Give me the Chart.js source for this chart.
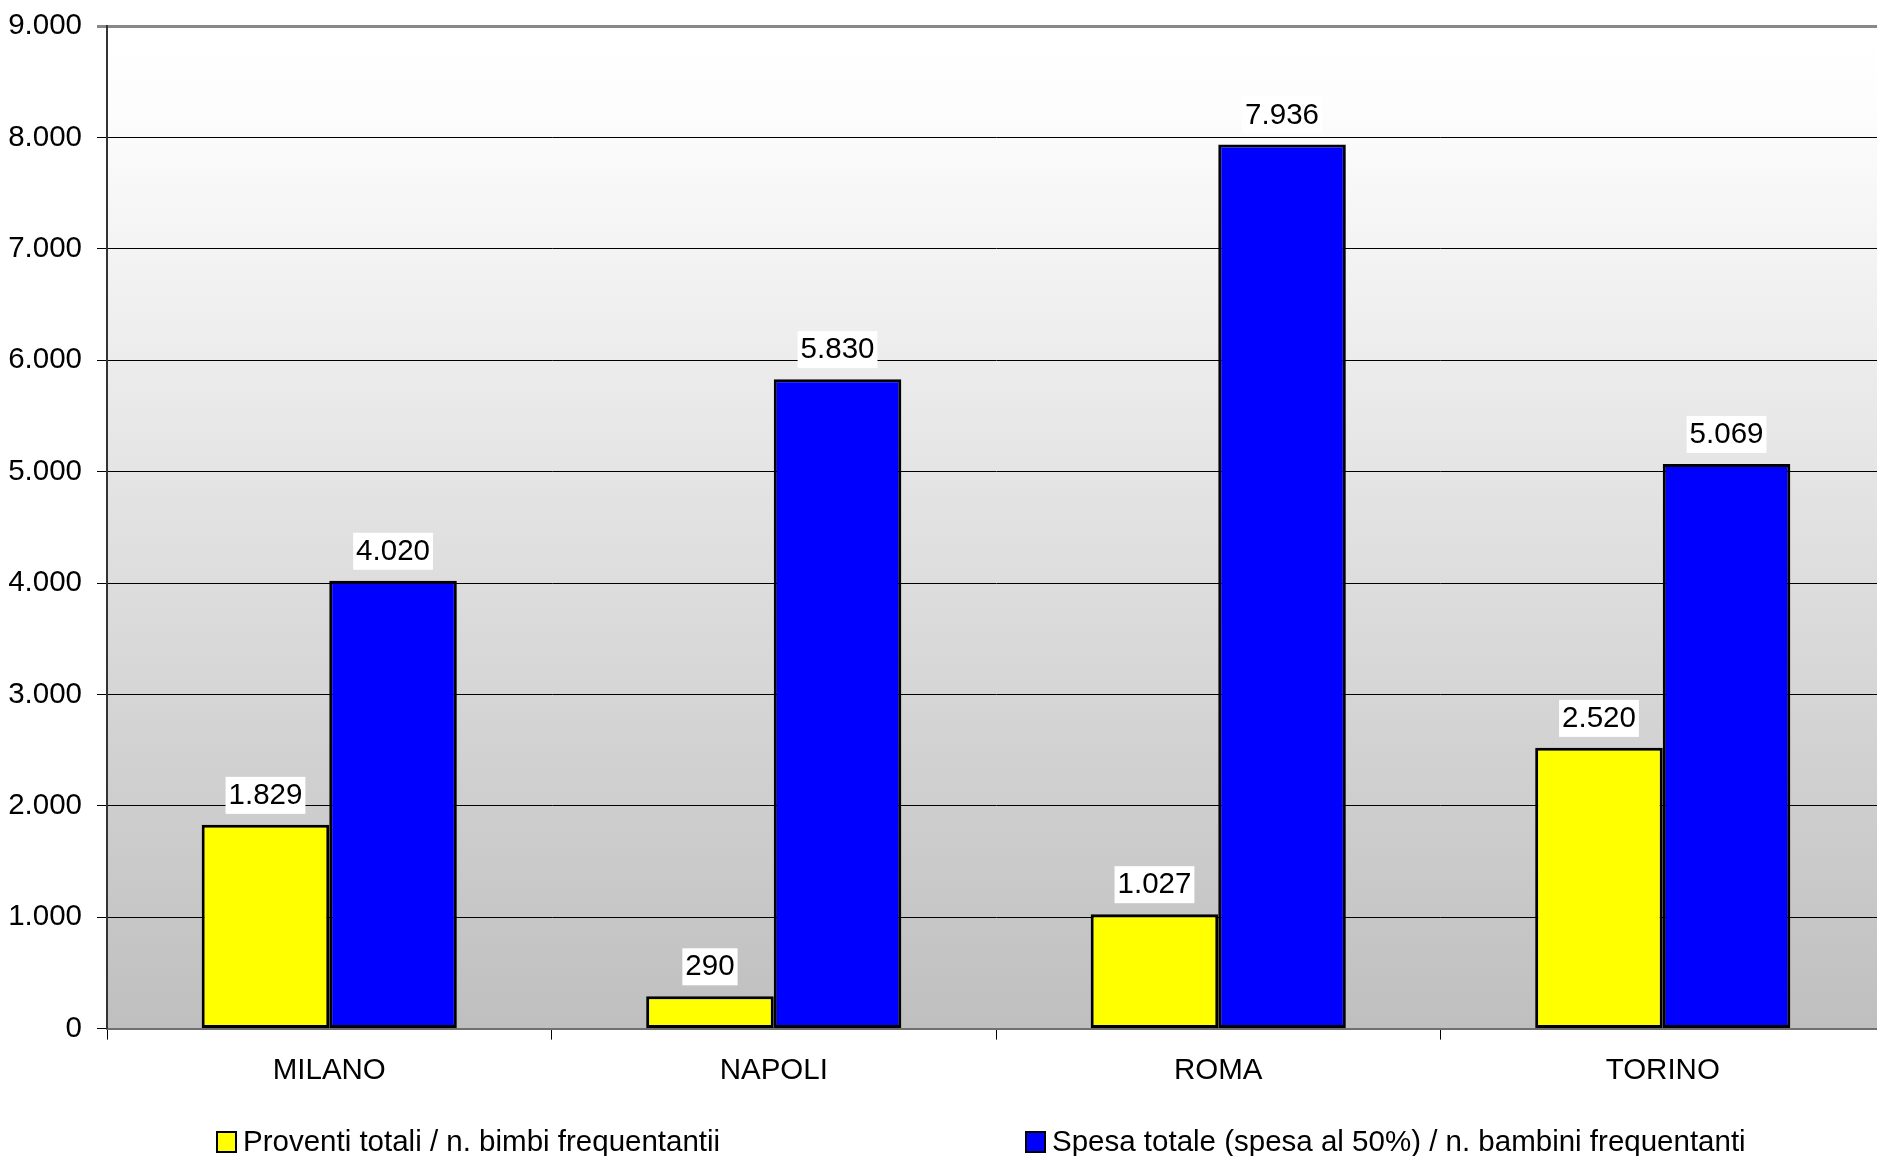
<!DOCTYPE html>
<html>
<head>
<meta charset="utf-8">
<script src="https://cdn.jsdelivr.net/npm/chart.js@4.4.1/dist/chart.umd.min.js"></script>
<style>
  html, body { margin: 0; padding: 0; background: #fff; overflow: hidden; }
  #wrap { width: 1890px; height: 1156px; position: relative; }
</style>
</head>
<body>
<div id="wrap"><canvas id="spesaChart"></canvas></div>
<script>
// Data
const cities = ['MILANO', 'NAPOLI', 'ROMA', 'TORINO'];
const proventi = [1829, 290, 1027, 2520];
const spesa = [4020, 5830, 7936, 5069];
const seriesNames = [
    'Proventi totali / n. bimbi frequentantii',
    'Spesa totale (spesa al 50%) / n. bambini frequentanti'
];
const yMin = 0;
const yMax = 9000;
const yStep = 1000;

const FONT = '"Liberation Sans", Arial, sans-serif';
const FSIZE = 29.5;

// 9000 -> "9.000"
function fmt(v) {
    return String(v).replace(/\B(?=(\d{3})+(?!\d))/g, '.');
}

// Gray gradient behind the plot area
const plotBackground = {
    id: 'plotBackground',
    beforeDraw(chart) {
        const { ctx, chartArea: a } = chart;
        ctx.save();
        ctx.fillStyle = '#ffffff';
        ctx.fillRect(0, 0, chart.width, chart.height);
        const g = ctx.createLinearGradient(0, a.top, 0, a.bottom);
        g.addColorStop(0, '#ffffff');
        g.addColorStop(0.08, '#fdfdfd');
        g.addColorStop(1, '#bfbfbf');
        ctx.fillStyle = g;
        ctx.fillRect(a.left, a.top, a.right - a.left, a.bottom - a.top);
        ctx.restore();
    }
};

// Value labels in white boxes above each bar
const valueLabels = {
    id: 'valueLabels',
    afterDatasetsDraw(chart) {
        const ctx = chart.ctx;
        ctx.save();
        ctx.font = FSIZE + 'px ' + FONT;
        ctx.textAlign = 'center';
        ctx.textBaseline = 'middle';
        chart.data.datasets.forEach((ds, i) => {
            chart.getDatasetMeta(i).data.forEach((bar, j) => {
                const txt = fmt(ds.data[j]);
                const w = ctx.measureText(txt).width;
                const cy = bar.y - 30;
                ctx.fillStyle = '#ffffff';
                ctx.fillRect(bar.x - w / 2 - 3, cy - 18, w + 6, 37);
                ctx.fillStyle = '#000000';
                ctx.fillText(txt, bar.x, cy + 1);
            });
        });
        ctx.restore();
    }
};

// Legend drawn under the category labels
const bottomLegend = {
    id: 'bottomLegend',
    afterDraw(chart) {
        const ctx = chart.ctx;
        const a = chart.chartArea;
        const starts = [a.left + 110, a.left + 919];
        const cy = 1142;
        ctx.save();
        ctx.font = FSIZE + 'px ' + FONT;
        ctx.textAlign = 'left';
        ctx.textBaseline = 'middle';
        chart.data.datasets.forEach((ds, i) => {
            const x = starts[i];
            ctx.fillStyle = ds.backgroundColor;
            ctx.fillRect(x, cy - 10, 19, 20);
            ctx.strokeStyle = '#000000';
            ctx.lineWidth = 2;
            ctx.strokeRect(x, cy - 10, 19, 20);
            ctx.fillStyle = '#000000';
            ctx.fillText(ds.label, x + 26, cy + 1);
        });
        ctx.restore();
    }
};

const chartData = {
    labels: cities,
    datasets: [{
        label: seriesNames[0],
        data: proventi,
        backgroundColor: '#ffff00',
        borderColor: '#000000',
        borderWidth: 3,
        borderSkipped: false
    }, {
        label: seriesNames[1],
        data: spesa,
        backgroundColor: '#0000ff',
        borderColor: '#000000',
        borderWidth: 3,
        borderSkipped: false
    }]
};

const chartConfig = {
    type: 'bar',
    data: chartData,
    options: {
        responsive: true,
        maintainAspectRatio: false,
        animation: false,
        categoryPercentage: 0.574,
        barPercentage: 1.0,
        layout: {
            padding: { left: 9, right: 5, top: 26, bottom: 53 }
        },
        scales: {
            x: {
                grid: {
                    offset: true,
                    drawOnChartArea: false,
                    drawTicks: true,
                    tickLength: 11,
                    color: '#000000'
                },
                border: { color: '#707070', width: 2 },
                ticks: {
                    color: '#000000',
                    padding: 14,
                    font: { family: FONT, size: FSIZE }
                }
            },
            y: {
                min: yMin,
                max: yMax,
                afterFit: (scale) => {
                    scale.width = 98;
                    scale.paddingTop = 0;
                },
                grid: {
                    tickLength: 10,
                    color: (c) => c.tick && c.tick.value === yMax ? '#888888' : '#000000',
                    lineWidth: (c) => c.tick && c.tick.value === yMax ? 3 : 1
                },
                border: { color: '#333333', width: 2 },
                ticks: {
                    stepSize: yStep,
                    color: '#000000',
                    padding: 15,
                    font: { family: FONT, size: FSIZE },
                    callback: (v) => fmt(v)
                }
            }
        },
        plugins: {
            legend: { display: false },
            tooltip: { enabled: false }
        }
    },
    plugins: [plotBackground, valueLabels, bottomLegend]
};

const spesaCtx = document.getElementById('spesaChart').getContext('2d');
new Chart(spesaCtx, chartConfig);
</script>
</body>
</html>
